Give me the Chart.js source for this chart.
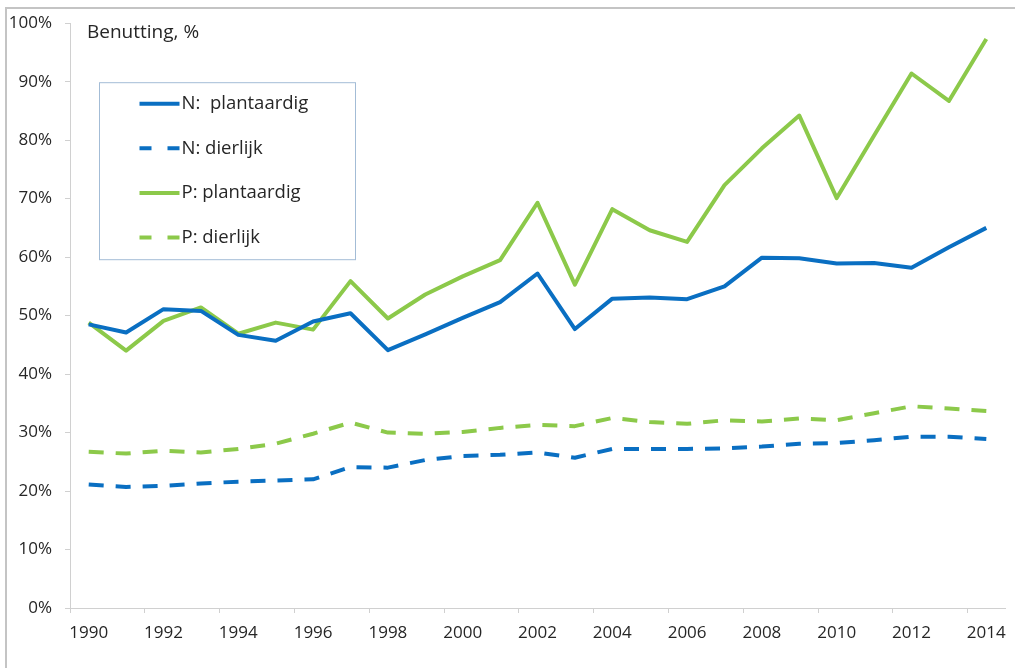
<!DOCTYPE html>
<html lang="nl">
<head>
<meta charset="utf-8">
<title>Benutting N en P</title>
<script src="https://cdn.jsdelivr.net/npm/chart.js@4.4.1/dist/chart.umd.min.js"></script>
<style>
  html, body { margin: 0; padding: 0; background: #fff; overflow: hidden; }
  #wrap { position: relative; width: 1015px; height: 668px; }
  #frame {
    position: absolute; left: 5px; top: 7px; width: 1100px; height: 700px;
    border-left: 2px solid #c4c4c4; border-top: 2px solid #c4c4c4;
  }
  #chart { position: absolute; left: 0; top: 0; }
</style>
</head>
<body>
<div id="wrap">
  <div id="frame"></div>
  <canvas id="chart" width="1015" height="668"></canvas>
</div>
<script>
'use strict';

const chartTitle = 'Benutting, %';

const years = [1990, 1991, 1992, 1993, 1994, 1995, 1996, 1997, 1998, 1999, 2000, 2001, 2002,
               2003, 2004, 2005, 2006, 2007, 2008, 2009, 2010, 2011, 2012, 2013, 2014];

// labelled years on the x axis (every second year)
const xLabelYears = [1990, 1992, 1994, 1996, 1998, 2000, 2002, 2004, 2006, 2008, 2010, 2012, 2014];
const yTicks = [0, 10, 20, 30, 40, 50, 60, 70, 80, 90, 100];

const nPlantaardig = [48.5, 47.1, 51.1, 50.8, 46.7, 45.7, 49.0, 50.4, 44.1, 46.8, 49.6, 52.3, 57.2,
                      47.7, 52.9, 53.1, 52.8, 55.0, 59.9, 59.8, 58.9, 59.0, 58.2, 61.7, 65.0];
const nDierlijk = [21.1, 20.7, 20.9, 21.3, 21.6, 21.8, 22.0, 24.1, 24.0, 25.3, 26.0, 26.2, 26.6,
                   25.7, 27.2, 27.2, 27.2, 27.3, 27.6, 28.1, 28.2, 28.7, 29.3, 29.3, 28.9];
const pPlantaardig = [48.8, 44.0, 49.1, 51.4, 46.9, 48.8, 47.6, 55.9, 49.5, 53.6, 56.7, 59.5, 69.3,
                      55.3, 68.2, 64.6, 62.6, 72.3, 78.6, 84.2, 70.1, 80.8, 91.4, 86.7, 97.3];
const pDierlijk = [26.7, 26.4, 26.9, 26.6, 27.2, 28.1, 29.8, 31.7, 30.0, 29.8, 30.1, 30.8, 31.3,
                   31.1, 32.5, 31.8, 31.5, 32.1, 31.9, 32.4, 32.1, 33.3, 34.5, 34.1, 33.7];

const BLUE = '#0a6fc2';
const GREEN = '#8cc94a';
const AXIS = '#d0d0d0';
const TEXT = '#262626';
const DASH = [15, 12];

function points(values) {
    return years.map((y, i) => ({ x: y, y: values[i] }));
}

function series(label, values, color, dashed) {
    return {
        label: label,
        data: points(values),
        borderColor: color,
        backgroundColor: color,
        borderWidth: 4,
        borderDash: dashed ? DASH : [],
        borderCapStyle: 'butt',
        borderJoinStyle: 'round',
        pointRadius: 0,
        tension: 0,
        fill: false
    };
}

// title and boxed legend inside the plot area
const boxLegend = {
    id: 'boxLegend',
    afterDatasetsDraw(chart) {
        const ctx = chart.ctx;
        const area = chart.chartArea;
        ctx.save();

        ctx.fillStyle = TEXT;
        ctx.font = "19px 'Open Sans', sans-serif";
        ctx.textBaseline = 'middle';
        ctx.textAlign = 'left';
        ctx.fillText(chartTitle, area.left + 17, area.top + 9);

        const bx = area.left + 29.5, by = area.top + 59.5, bw = 256, bh = 177;
        ctx.fillStyle = '#fff';
        ctx.fillRect(bx, by, bw, bh);
        ctx.strokeStyle = '#a3bcd6';
        ctx.lineWidth = 1;
        ctx.strokeRect(bx, by, bw, bh);

        chart.data.datasets.forEach((ds, i) => {
            const y = by + 21 + i * 44.6;
            ctx.beginPath();
            ctx.strokeStyle = ds.borderColor;
            ctx.lineWidth = 4;
            ctx.setLineDash(ds.borderDash.length ? [12, 16] : []);
            ctx.moveTo(bx + 40, y);
            ctx.lineTo(bx + 80, y);
            ctx.stroke();
            ctx.setLineDash([]);
            ctx.fillStyle = TEXT;
            ctx.font = "18.5px 'Open Sans', sans-serif";
            ctx.fillText(ds.label, bx + 82, y);
        });
        ctx.restore();
    }
};

Chart.defaults.font.family = "'Open Sans', sans-serif";
Chart.defaults.color = TEXT;

new Chart(document.getElementById('chart'), {
    type: 'line',
    data: {
        datasets: [
            series('N:  plantaardig', nPlantaardig, BLUE, false),
            series('N: dierlijk', nDierlijk, BLUE, true),
            series('P: plantaardig', pPlantaardig, GREEN, false),
            series('P: dierlijk', pDierlijk, GREEN, true)
        ]
    },
    options: {
        responsive: false,
        animation: false,
        layout: { padding: { left: 0, top: 20, right: 0, bottom: 0 } },
        plugins: {
            legend: { display: false },
            tooltip: { enabled: false }
        },
        scales: {
            x: {
                type: 'linear',
                min: years[0] - 0.5,
                max: years[years.length - 1] + 0.5,
                afterBuildTicks: scale => {
                    // tick marks sit between the years, labels on every second year
                    const ticks = [];
                    xLabelYears.forEach(y => {
                        ticks.push({ value: y - 0.5 });
                        ticks.push({ value: y });
                    });
                    ticks.push({ value: years[years.length - 1] + 0.5 });
                    scale.ticks = ticks;
                },
                afterFit: scale => { scale.height = 60; },
                ticks: {
                    autoSkip: false,
                    maxRotation: 0,
                    padding: 10,
                    font: { size: 17 },
                    color: TEXT,
                    callback: value => xLabelYears.includes(value) ? String(value) : ''
                },
                grid: {
                    drawOnChartArea: false,
                    tickLength: 5,
                    color: ctx => (ctx.tick && Number.isInteger(ctx.tick.value)) ||
                        (ctx.tick && ctx.tick.value > years[years.length - 1]) ? 'rgba(0,0,0,0)' : AXIS
                },
                border: { display: true, color: AXIS, width: 1 }
            },
            y: {
                min: 0,
                max: 100,
                afterBuildTicks: scale => {
                    scale.ticks = yTicks.map(v => ({ value: v }));
                },
                afterFit: scale => { scale.width = 70; },
                ticks: {
                    padding: 13,
                    font: { size: 17 },
                    color: TEXT,
                    callback: value => value + '%'
                },
                grid: {
                    drawOnChartArea: false,
                    tickLength: 5,
                    color: AXIS
                },
                border: { display: true, color: AXIS, width: 1 }
            }
        }
    },
    plugins: [boxLegend]
});
</script>
</body>
</html>
